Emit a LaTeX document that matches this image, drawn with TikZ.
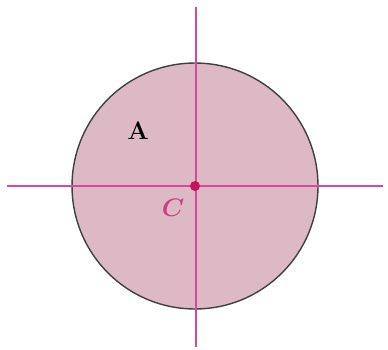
\documentclass[tikz,border=0pt]{standalone}
\definecolor{areaPink}{HTML}{DDB9C5}
\definecolor{axisPink}{HTML}{D9499A}
\definecolor{dotPink}{HTML}{C8105C}
\definecolor{labelPink}{HTML}{CC3F80}
\usepackage{amsmath, amssymb}
\usepackage{tikz}
\usetikzlibrary{arrows.meta, positioning, calc}

\begin{document}
\begin{tikzpicture}[
    x=0.02cm, y=0.02cm,
    area/.style={circle, fill=areaPink, draw=black!75, line width=0.8pt, minimum size=4.92cm, inner sep=0pt},
    axis/.style={axisPink, line width=0.9pt},
    centroid/.style={circle, fill=dotPink, inner sep=0pt, minimum size=0.2cm},
    lbl/.style={font=\Large\bfseries}
]
\useasboundingbox (0,0) rectangle (388,349);

% Area
\node[area] (disk) at (195,163) {};

% Axes
\coordinate (xl) at (7,163);
\coordinate (xr) at (383,163);
\coordinate (yb) at (196,2);
\coordinate (yt) at (196,342);
\draw[axis] (xl) -- (xr);
\draw[axis] (yb) -- (yt);

% Centroid
\node[centroid] (c) at (195,163) {};

% Labels
\node[lbl] (la) at (138,218) {A};
\node[lbl, text=labelPink] (lc) at (173,141) {$\boldsymbol{C}$};

\end{tikzpicture}
\end{document}
